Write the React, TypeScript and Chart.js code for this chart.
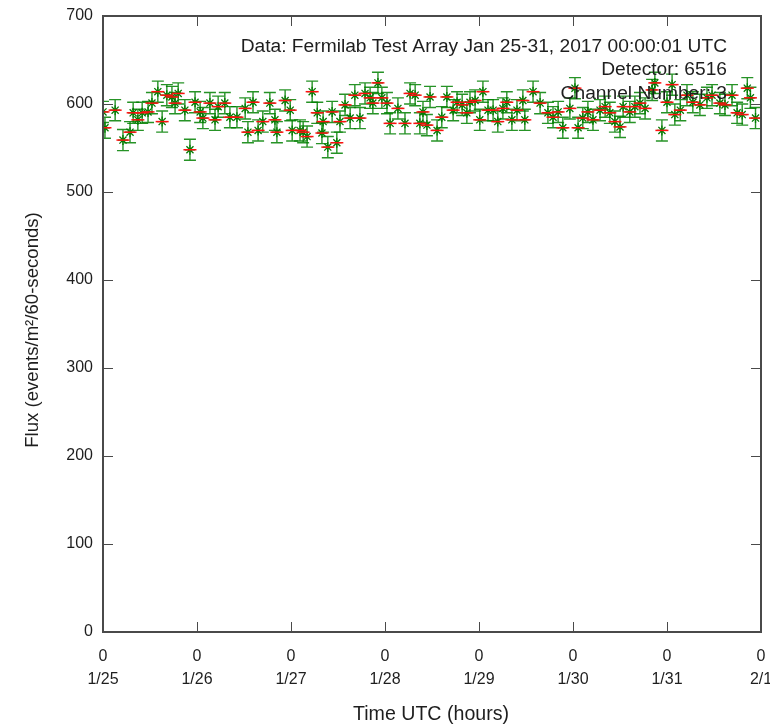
import React, { useEffect, useRef } from "react";
import { Chart, registerables } from "chart.js";

Chart.register(...registerables);

// Hours since 1/25 00:00 UTC
const HOURS: number[] = [
  0.0, 0.5, 3.1, 5.1, 6.9, 7.7, 8.9, 10.0, 11.5, 12.5, 14.0, 15.1, 16.3, 17.6, 18.4, 19.2, 20.9, 22.2, 23.5,
  24.8, 25.5, 27.3, 28.6, 29.4, 31.1, 32.4, 34.2, 36.3, 37.0, 38.3, 39.6, 40.8, 42.6, 43.9, 44.4, 46.5, 47.8,
  48.3, 50.3, 51.1, 52.1, 53.4, 54.7, 55.9, 56.2, 57.4, 58.5, 59.7, 60.5, 61.8, 63.1, 64.3, 65.6, 66.9, 68.2,
  68.9, 70.2, 71.2, 72.5, 73.3, 75.3, 77.1, 78.4, 79.7, 80.9, 81.7, 82.7, 83.5, 85.3, 86.5, 87.8, 89.4, 90.4,
  91.7, 92.9, 93.7, 95.0, 96.2, 97.0, 98.3, 99.6, 100.8, 102.1, 103.1, 104.4, 105.7, 107.2, 107.7, 109.8,
  111.6, 113.6, 114.9, 116.2, 117.4, 119.2, 120.5, 121.3, 122.5, 123.8, 125.1, 126.9, 128.2, 129.4, 130.7,
  132.0, 132.8, 134.5, 135.8, 137.1, 138.4, 140.2, 140.9, 142.7, 144.0, 145.3, 146.0, 147.4, 149.1, 150.6,
  152.4, 154.2, 155.5, 157.5, 158.8, 160.6, 161.9, 163.2, 164.5, 165.3, 166.6,
];

// Flux (events/m^2/60-seconds)
const FLUX: number[] = [
  591, 573, 593, 559, 568, 590, 582, 590, 591, 601, 614, 580, 610, 608, 601, 612, 593, 548, 602,
  591, 584, 601, 582, 597, 601, 585, 585, 595, 568, 602, 570, 580, 601, 582, 568, 604, 593,
  570, 570, 568, 563, 614, 590, 567, 580, 551, 591, 556, 580, 599, 584, 610, 584, 612, 607,
  601, 624, 607, 601, 578, 595, 578, 612, 610, 578, 591, 576, 608, 570, 585, 608, 593, 602,
  599, 590, 602, 604, 582, 614, 593, 593, 580, 595, 602, 582, 593, 604, 582, 614,
  601, 590, 585, 591, 573, 595, 618, 573, 584, 591, 582, 593, 597, 590, 580,
  574, 597, 591, 597, 601, 595, 616, 624, 570, 602, 622, 588, 593, 610, 602,
  599, 607, 610, 601, 599, 610, 590, 588, 618, 607, 584,
];

const FLUX_ERROR = 12;

const X_TICKS: number[] = [0, 24, 48, 72, 96, 120, 144, 168];
const X_HOUR_LABELS: string[] = ["0", "0", "0", "0", "0", "0", "0", "0"];
const X_DAY_LABELS: string[] = ["1/25", "1/26", "1/27", "1/28", "1/29", "1/30", "1/31", "2/1"];
const Y_TICKS: number[] = [0, 100, 200, 300, 400, 500, 600, 700];

const INFO_LINES: string[] = [
  "Data: Fermilab Test Array Jan 25-31, 2017 00:00:01 UTC",
  "Detector: 6516",
  "Channel Number: 3",
];
const X_TITLE = "Time UTC (hours)";
const Y_TITLE = "Flux (events/m\u00B2/60-seconds)";

const FAMILY = "'Liberation Sans', Arial, sans-serif";
const TICK_FONT = `16px ${FAMILY}`;
const INFO_FONT = `19.2px ${FAMILY}`;
const XTITLE_FONT = `19.6px ${FAMILY}`;
const YTITLE_FONT = `18.6px ${FAMILY}`;
const TEXT_COLOR = "#1e1e1e";
const AXIS_COLOR = "#4a4a4a";
const GREEN = "rgba(0,128,0,0.85)";

const framePlugin = {
  id: "gnuFrame",
  beforeDatasetsDraw(chart: any) {
    const { ctx, chartArea: a } = chart;
    const xs = chart.scales.x;
    const ys = chart.scales.y;
    ctx.save();
    ctx.beginPath();
    ctx.rect(a.left, a.top, a.right - a.left, a.bottom - a.top);
    ctx.clip();
    ctx.strokeStyle = GREEN;
    ctx.lineWidth = 1.4;
    for (let i = 0; i < HOURS.length; i++) {
      const x = xs.getPixelForValue(HOURS[i]);
      const y1 = ys.getPixelForValue(FLUX[i] - FLUX_ERROR);
      const y2 = ys.getPixelForValue(FLUX[i] + FLUX_ERROR);
      ctx.beginPath();
      ctx.moveTo(x, y1);
      ctx.lineTo(x, y2);
      ctx.moveTo(x - 6, y1);
      ctx.lineTo(x + 6, y1);
      ctx.moveTo(x - 6, y2);
      ctx.lineTo(x + 6, y2);
      ctx.stroke();
    }
    ctx.restore();
  },
  afterDraw(chart: any) {
    const { ctx, chartArea: a } = chart;
    const xs = chart.scales.x;
    const ys = chart.scales.y;
    ctx.save();
    // inward ticks
    ctx.strokeStyle = AXIS_COLOR;
    ctx.lineWidth = 1;
    const tl = 10;
    ctx.beginPath();
    for (const v of Y_TICKS) {
      const y = Math.round(ys.getPixelForValue(v)) + 0.5;
      ctx.moveTo(a.left, y);
      ctx.lineTo(a.left + tl, y);
      ctx.moveTo(a.right, y);
      ctx.lineTo(a.right - tl, y);
    }
    for (const v of X_TICKS) {
      const x = Math.round(xs.getPixelForValue(v)) + 0.5;
      ctx.moveTo(x, a.bottom);
      ctx.lineTo(x, a.bottom - tl);
      ctx.moveTo(x, a.top);
      ctx.lineTo(x, a.top + tl);
    }
    ctx.stroke();
    // border
    ctx.lineWidth = 2;
    ctx.strokeRect(a.left, a.top, a.right - a.left, a.bottom - a.top);

    // tick labels
    ctx.fillStyle = TEXT_COLOR;
    ctx.font = TICK_FONT;
    ctx.textAlign = "right";
    ctx.textBaseline = "middle";
    for (const v of Y_TICKS) {
      ctx.fillText(String(v), a.left - 10, ys.getPixelForValue(v));
    }
    ctx.textAlign = "center";
    X_TICKS.forEach((v, i) => {
      const x = xs.getPixelForValue(v);
      ctx.fillText(X_HOUR_LABELS[i], x, a.bottom + 25);
      ctx.fillText(X_DAY_LABELS[i], x, a.bottom + 48);
    });

    // axis titles
    ctx.font = XTITLE_FONT;
    ctx.fillText(X_TITLE, (a.left + a.right) / 2 - 1, 715);
    ctx.save();
    ctx.font = YTITLE_FONT;
    ctx.translate(33, 330);
    ctx.rotate(-Math.PI / 2);
    ctx.fillText(Y_TITLE, 0, 0);
    ctx.restore();

    // info text
    ctx.font = INFO_FONT;
    ctx.textAlign = "right";
    INFO_LINES.forEach((t, i) => {
      ctx.fillText(t, 727, 46.5 + i * 23.5);
    });
    ctx.restore();
  },
};

export default function App() {
  const canvasRef = useRef<HTMLCanvasElement | null>(null);

  useEffect(() => {
    const canvas = canvasRef.current;
    if (!canvas) return;
    const points = HOURS.map((h, i) => ({ x: h, y: FLUX[i] }));
    const chart = new Chart(canvas, {
      type: "scatter",
      data: {
        datasets: [
          {
            data: points,
            pointStyle: "line",
            pointRadius: 6.5,
            pointBorderColor: "#ff1010",
            pointBackgroundColor: "#ff1010",
            pointBorderWidth: 1.5,
            showLine: false,
          } as any,
          {
            data: points,
            pointStyle: "star",
            pointRadius: 5,
            pointBorderColor: "#007a00",
            pointBackgroundColor: "#007a00",
            pointBorderWidth: 1.3,
            showLine: false,
          } as any,
        ],
      },
      options: {
        animation: false,
        responsive: false,
        maintainAspectRatio: false,
        events: [],
        layout: { padding: { left: 103, right: 9, top: 16, bottom: 94 } },
        plugins: { legend: { display: false }, tooltip: { enabled: false }, title: { display: false } },
        scales: {
          x: { type: "linear", min: 0, max: 168, display: false },
          y: { type: "linear", min: 0, max: 700, display: false },
        },
      },
      plugins: [framePlugin],
    });
    return () => chart.destroy();
  }, []);

  return (
    <div style={{ position: "fixed", left: 0, top: 0, width: 770, height: 726, background: "#fff" }}>
      <canvas ref={canvasRef} width={770} height={726} style={{ display: "block", width: 770, height: 726 }} />
    </div>
  );
}
